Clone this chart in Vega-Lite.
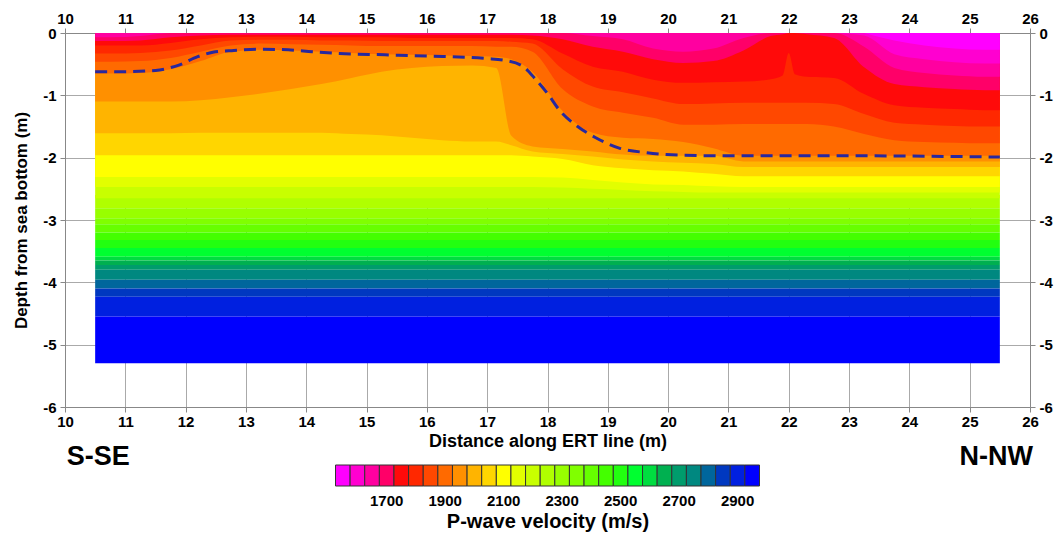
{
"$schema":"https://vega.github.io/schema/vega-lite/v6.json",
"background":"white",
"padding":{"left":12,"top":11,"right":5,"bottom":5},
"config":{"font":"Liberation Sans","view":{"stroke":null},
 "axis":{"labelFont":"Liberation Sans","titleFont":"Liberation Sans","labelColor":"#000","titleColor":"#000","labelFontWeight":"bold","titleFontWeight":"bold"}},
"spacing":58,
"bounds":"flush",
"center":true,
"datasets":{
"low":[
{"x0":10.5,"x1":25.5,"d0":-2.6,"d1":-2.81,"v":2250},{"x0":10.5,"x1":25.5,"d0":-2.81,"d1":-2.97,"v":2300},{"x0":10.5,"x1":25.5,"d0":-2.97,"d1":-3.07,"v":2350},{"x0":10.5,"x1":25.5,"d0":-3.07,"d1":-3.2,"v":2400},{"x0":10.5,"x1":25.5,"d0":-3.2,"d1":-3.32,"v":2450},{"x0":10.5,"x1":25.5,"d0":-3.32,"d1":-3.45,"v":2500},{"x0":10.5,"x1":25.5,"d0":-3.45,"d1":-3.59,"v":2550},{"x0":10.5,"x1":25.5,"d0":-3.59,"d1":-3.65,"v":2600},{"x0":10.5,"x1":25.5,"d0":-3.65,"d1":-3.72,"v":2650},{"x0":10.5,"x1":25.5,"d0":-3.72,"d1":-3.8,"v":2700},{"x0":10.5,"x1":25.5,"d0":-3.8,"d1":-3.96,"v":2750},{"x0":10.5,"x1":25.5,"d0":-3.96,"d1":-4.1,"v":2800},{"x0":10.5,"x1":25.5,"d0":-4.1,"d1":-4.23,"v":2850},{"x0":10.5,"x1":25.5,"d0":-4.23,"d1":-4.55,"v":2900},{"x0":10.5,"x1":25.5,"d0":-4.55,"d1":-5.3,"v":2950}
],
"bounds":[
{"v":2200,"x":10.5,"b":-2.65},{"v":2200,"x":25.5,"b":-2.65},
{"v":2150,"x":10.5,"b":-2.47},{"v":2150,"x":17.4,"b":-2.47},{"v":2150,"x":17.75,"b":-2.47},{"v":2150,"x":18.25,"b":-2.48},{"v":2150,"x":18.75,"b":-2.5},{"v":2150,"x":19.25,"b":-2.52},{"v":2150,"x":19.75,"b":-2.54},{"v":2150,"x":20.25,"b":-2.55},{"v":2150,"x":20.75,"b":-2.56},{"v":2150,"x":21.25,"b":-2.56},{"v":2150,"x":25.5,"b":-2.56},
{"v":2100,"x":10.5,"b":-2.31},{"v":2100,"x":17.4,"b":-2.31},{"v":2100,"x":17.75,"b":-2.31},{"v":2100,"x":18.25,"b":-2.32},{"v":2100,"x":18.75,"b":-2.36},{"v":2100,"x":19.25,"b":-2.4},{"v":2100,"x":19.75,"b":-2.43},{"v":2100,"x":20.25,"b":-2.44},{"v":2100,"x":20.75,"b":-2.46},{"v":2100,"x":21.25,"b":-2.47},{"v":2100,"x":25.5,"b":-2.47},
{"v":2050,"x":10.5,"b":-1.96},{"v":2050,"x":17.4,"b":-1.96},{"v":2050,"x":17.75,"b":-1.98},{"v":2050,"x":18.25,"b":-2.02},{"v":2050,"x":18.75,"b":-2.12},{"v":2050,"x":19.25,"b":-2.17},{"v":2050,"x":19.75,"b":-2.2},{"v":2050,"x":20.25,"b":-2.22},{"v":2050,"x":20.75,"b":-2.26},{"v":2050,"x":21.25,"b":-2.3},{"v":2050,"x":25.5,"b":-2.3},
{"v":2000,"x":10.5,"b":-1.61},{"v":2000,"x":11.75,"b":-1.61},{"v":2000,"x":12.25,"b":-1.6},{"v":2000,"x":14.25,"b":-1.6},{"v":2000,"x":14.75,"b":-1.62},{"v":2000,"x":15.25,"b":-1.64},{"v":2000,"x":15.75,"b":-1.68},{"v":2000,"x":16.25,"b":-1.72},{"v":2000,"x":16.75,"b":-1.74},{"v":2000,"x":17.15,"b":-1.74},{"v":2000,"x":17.4,"b":-1.8},{"v":2000,"x":17.75,"b":-1.9},{"v":2000,"x":18.25,"b":-1.94},{"v":2000,"x":18.75,"b":-1.98},{"v":2000,"x":19.25,"b":-2.03},{"v":2000,"x":19.75,"b":-2.06},{"v":2000,"x":20.25,"b":-2.08},{"v":2000,"x":20.75,"b":-2.1},{"v":2000,"x":21.25,"b":-2.15},{"v":2000,"x":25.5,"b":-2.15},
{"v":1950,"x":10.5,"b":-1.1},{"v":1950,"x":11.75,"b":-1.1},{"v":1950,"x":12.25,"b":-1.08},{"v":1950,"x":12.75,"b":-1.03},{"v":1950,"x":13.25,"b":-0.97},{"v":1950,"x":13.75,"b":-0.9},{"v":1950,"x":14.25,"b":-0.82},{"v":1950,"x":14.75,"b":-0.72},{"v":1950,"x":15.25,"b":-0.62},{"v":1950,"x":15.75,"b":-0.56},{"v":1950,"x":16.25,"b":-0.53},{"v":1950,"x":16.75,"b":-0.52},{"v":1950,"x":17.15,"b":-0.56},{"v":1950,"x":17.4,"b":-1.65},{"v":1950,"x":17.75,"b":-1.82},{"v":1950,"x":18.25,"b":-1.86},{"v":1950,"x":18.75,"b":-1.9},{"v":1950,"x":19.25,"b":-1.95},{"v":1950,"x":19.75,"b":-1.97},{"v":1950,"x":20.25,"b":-1.97},{"v":1950,"x":20.75,"b":-1.97},{"v":1950,"x":21.25,"b":-2.06},{"v":1950,"x":25.5,"b":-2.06},
{"v":1900,"x":10.5,"b":-0.65},{"v":1900,"x":10.75,"b":-0.65},{"v":1900,"x":11.25,"b":-0.64},{"v":1900,"x":11.75,"b":-0.58},{"v":1900,"x":12.25,"b":-0.45},{"v":1900,"x":12.75,"b":-0.3},{"v":1900,"x":13.25,"b":-0.27},{"v":1900,"x":13.75,"b":-0.28},{"v":1900,"x":14.25,"b":-0.3},{"v":1900,"x":14.75,"b":-0.32},{"v":1900,"x":15.25,"b":-0.34},{"v":1900,"x":15.75,"b":-0.35},{"v":1900,"x":16.25,"b":-0.36},{"v":1900,"x":16.75,"b":-0.37},{"v":1900,"x":17.15,"b":-0.38},{"v":1900,"x":17.4,"b":-0.42},{"v":1900,"x":17.75,"b":-0.62},{"v":1900,"x":18.25,"b":-1.25},{"v":1900,"x":18.75,"b":-1.6},{"v":1900,"x":19.25,"b":-1.68},{"v":1900,"x":19.75,"b":-1.7},{"v":1900,"x":20.25,"b":-1.75},{"v":1900,"x":20.75,"b":-1.85},{"v":1900,"x":21.25,"b":-1.97},{"v":1900,"x":25.5,"b":-1.97},
{"v":1850,"x":10.5,"b":-0.46},{"v":1850,"x":10.75,"b":-0.46},{"v":1850,"x":11.25,"b":-0.45},{"v":1850,"x":11.75,"b":-0.4},{"v":1850,"x":12.25,"b":-0.3},{"v":1850,"x":12.75,"b":-0.2},{"v":1850,"x":13.25,"b":-0.17},{"v":1850,"x":13.75,"b":-0.18},{"v":1850,"x":14.25,"b":-0.19},{"v":1850,"x":14.75,"b":-0.2},{"v":1850,"x":15.25,"b":-0.21},{"v":1850,"x":16.75,"b":-0.21},{"v":1850,"x":17.15,"b":-0.22},{"v":1850,"x":17.4,"b":-0.22},{"v":1850,"x":17.75,"b":-0.3},{"v":1850,"x":18.25,"b":-0.9},{"v":1850,"x":18.75,"b":-1.18},{"v":1850,"x":19.25,"b":-1.28},{"v":1850,"x":19.75,"b":-1.36},{"v":1850,"x":20.25,"b":-1.47},{"v":1850,"x":20.75,"b":-1.47},{"v":1850,"x":21.25,"b":-1.46},{"v":1850,"x":22.3,"b":-1.46},{"v":1850,"x":22.75,"b":-1.5},{"v":1850,"x":23.25,"b":-1.62},{"v":1850,"x":23.75,"b":-1.72},{"v":1850,"x":24.25,"b":-1.75},{"v":1850,"x":24.75,"b":-1.76},{"v":1850,"x":25.25,"b":-1.77},{"v":1850,"x":25.5,"b":-1.77},
{"v":1800,"x":10.5,"b":-0.33},{"v":1800,"x":10.75,"b":-0.33},{"v":1800,"x":11.25,"b":-0.32},{"v":1800,"x":11.75,"b":-0.28},{"v":1800,"x":12.25,"b":-0.2},{"v":1800,"x":12.75,"b":-0.12},{"v":1800,"x":13.25,"b":-0.11},{"v":1800,"x":13.75,"b":-0.11},{"v":1800,"x":14.25,"b":-0.12},{"v":1800,"x":14.75,"b":-0.12},{"v":1800,"x":15.25,"b":-0.13},{"v":1800,"x":17.15,"b":-0.13},{"v":1800,"x":17.4,"b":-0.14},{"v":1800,"x":17.75,"b":-0.17},{"v":1800,"x":18.25,"b":-0.58},{"v":1800,"x":18.75,"b":-0.86},{"v":1800,"x":19.25,"b":-0.95},{"v":1800,"x":19.75,"b":-1.05},{"v":1800,"x":20.25,"b":-1.14},{"v":1800,"x":20.75,"b":-1.13},{"v":1800,"x":21.25,"b":-1.12},{"v":1800,"x":22.3,"b":-1.12},{"v":1800,"x":22.75,"b":-1.14},{"v":1800,"x":23.25,"b":-1.3},{"v":1800,"x":23.75,"b":-1.44},{"v":1800,"x":24.25,"b":-1.47},{"v":1800,"x":24.75,"b":-1.49},{"v":1800,"x":25.25,"b":-1.5},{"v":1800,"x":25.5,"b":-1.5},
{"v":1750,"x":10.5,"b":-0.2},{"v":1750,"x":11.25,"b":-0.2},{"v":1750,"x":11.75,"b":-0.16},{"v":1750,"x":12.25,"b":-0.1},{"v":1750,"x":12.75,"b":-0.07},{"v":1750,"x":13.25,"b":-0.06},{"v":1750,"x":13.75,"b":-0.06},{"v":1750,"x":14.25,"b":-0.07},{"v":1750,"x":15.25,"b":-0.07},{"v":1750,"x":15.75,"b":-0.08},{"v":1750,"x":17.4,"b":-0.08},{"v":1750,"x":17.75,"b":-0.1},{"v":1750,"x":18.25,"b":-0.33},{"v":1750,"x":18.75,"b":-0.54},{"v":1750,"x":19.25,"b":-0.62},{"v":1750,"x":19.75,"b":-0.75},{"v":1750,"x":20.25,"b":-0.8},{"v":1750,"x":20.75,"b":-0.79},{"v":1750,"x":21.25,"b":-0.78},{"v":1750,"x":21.7,"b":-0.74},{"v":1750,"x":21.9,"b":-0.68},{"v":1750,"x":22,"b":-0.32},{"v":1750,"x":22.1,"b":-0.66},{"v":1750,"x":22.3,"b":-0.7},{"v":1750,"x":22.75,"b":-0.72},{"v":1750,"x":23.25,"b":-0.98},{"v":1750,"x":23.75,"b":-1.16},{"v":1750,"x":24.25,"b":-1.2},{"v":1750,"x":24.75,"b":-1.22},{"v":1750,"x":25.25,"b":-1.24},{"v":1750,"x":25.5,"b":-1.24},
{"v":1700,"x":10.5,"b":-0.13},{"v":1700,"x":10.75,"b":-0.13},{"v":1700,"x":11.25,"b":-0.12},{"v":1700,"x":11.75,"b":-0.07},{"v":1700,"x":12.25,"b":-0.04},{"v":1700,"x":12.75,"b":-0.03},{"v":1700,"x":17.4,"b":-0.03},{"v":1700,"x":17.75,"b":-0.04},{"v":1700,"x":18.25,"b":-0.1},{"v":1700,"x":18.75,"b":-0.22},{"v":1700,"x":19.25,"b":-0.3},{"v":1700,"x":19.75,"b":-0.42},{"v":1700,"x":20.25,"b":-0.48},{"v":1700,"x":20.75,"b":-0.45},{"v":1700,"x":21.25,"b":-0.28},{"v":1700,"x":21.7,"b":-0.05},{"v":1700,"x":21.9,"b":-0.02},{"v":1700,"x":22,"b":0},{"v":1700,"x":22.1,"b":0},{"v":1700,"x":22.3,"b":-0.02},{"v":1700,"x":22.75,"b":-0.08},{"v":1700,"x":23.25,"b":-0.55},{"v":1700,"x":23.75,"b":-0.82},{"v":1700,"x":24.25,"b":-0.87},{"v":1700,"x":24.75,"b":-0.9},{"v":1700,"x":25.25,"b":-0.92},{"v":1700,"x":25.5,"b":-0.92},
{"v":1650,"x":10.5,"b":-0.07},{"v":1650,"x":10.75,"b":-0.07},{"v":1650,"x":11.25,"b":-0.05},{"v":1650,"x":11.75,"b":0},{"v":1650,"x":18.25,"b":0},{"v":1650,"x":18.75,"b":-0.05},{"v":1650,"x":19.25,"b":-0.1},{"v":1650,"x":19.75,"b":-0.25},{"v":1650,"x":20.25,"b":-0.3},{"v":1650,"x":20.75,"b":-0.25},{"v":1650,"x":21.25,"b":-0.08},{"v":1650,"x":21.7,"b":0},{"v":1650,"x":22.75,"b":0},{"v":1650,"x":23.25,"b":-0.22},{"v":1650,"x":23.75,"b":-0.56},{"v":1650,"x":24.25,"b":-0.64},{"v":1650,"x":24.75,"b":-0.68},{"v":1650,"x":25.25,"b":-0.7},{"v":1650,"x":25.5,"b":-0.7},
{"v":1600,"x":22.75,"b":0},{"v":1600,"x":23.25,"b":-0.04},{"v":1600,"x":23.75,"b":-0.34},{"v":1600,"x":24.25,"b":-0.42},{"v":1600,"x":24.75,"b":-0.47},{"v":1600,"x":25.25,"b":-0.49},{"v":1600,"x":25.5,"b":-0.49},
{"v":1550,"x":23.25,"b":0},{"v":1550,"x":23.75,"b":-0.12},{"v":1550,"x":24.25,"b":-0.2},{"v":1550,"x":24.75,"b":-0.25},{"v":1550,"x":25.25,"b":-0.27},{"v":1550,"x":25.5,"b":-0.27}
],
"line":[
{"x":10.5,"d":-0.62},{"x":11,"d":-0.62},{"x":11.5,"d":-0.6},{"x":11.9,"d":-0.51},{"x":12.2,"d":-0.38},{"x":12.45,"d":-0.31},{"x":12.8,"d":-0.28},{"x":13.2,"d":-0.26},{"x":13.7,"d":-0.27},{"x":14.1,"d":-0.3},{"x":14.55,"d":-0.33},{"x":15.3,"d":-0.35},{"x":16,"d":-0.37},{"x":17,"d":-0.41},{"x":17.3,"d":-0.44},{"x":17.6,"d":-0.54},{"x":17.8,"d":-0.74},{"x":18,"d":-0.97},{"x":18.2,"d":-1.24},{"x":18.5,"d":-1.5},{"x":18.8,"d":-1.68},{"x":19.2,"d":-1.85},{"x":19.65,"d":-1.92},{"x":20.2,"d":-1.96},{"x":21,"d":-1.97},{"x":23,"d":-1.97},{"x":25.5,"d":-1.99}
],
"bar":[{"v":1550},{"v":1600},{"v":1650},{"v":1700},{"v":1750},{"v":1800},{"v":1850},{"v":1900},{"v":1950},{"v":2000},{"v":2050},{"v":2100},{"v":2150},{"v":2200},{"v":2250},{"v":2300},{"v":2350},{"v":2400},{"v":2450},{"v":2500},{"v":2550},{"v":2600},{"v":2650},{"v":2700},{"v":2750},{"v":2800},{"v":2850},{"v":2900},{"v":2950}],
"left":[{"t":"S-SE","x":10.03,"d":-6.8}],
"right":[{"t":"N-NW","x":26.05,"d":-6.8}]
},
"vconcat":[
{
"width":965,"height":374,
"layer":[
{"data":{"name":"low"},
 "mark":{"type":"rect","strokeWidth":0},
 "encoding":{
  "x":{"field":"x0","type":"quantitative","scale":{"domain":[10,26],"nice":false,"zero":false},
   "axis":{"orient":"bottom","values":[10,11,12,13,14,15,16,17,18,19,20,21,22,23,24,25,26],"labelFlush":false,"labelOverlap":false,"labelFontSize":15,"labelPadding":2,"tickSize":5,"tickColor":"#888","domainColor":"#888","grid":true,"gridColor":"#aaa","title":"Distance along ERT line (m)","titleFontSize":18,"titlePadding":3}},
  "x2":{"field":"x1"},
  "y":{"field":"d0","type":"quantitative","scale":{"domain":[-6,0],"nice":false,"zero":false},
   "axis":{"orient":"left","values":[-6,-5,-4,-3,-2,-1,0],"labelExpr":"datum.value == 0 ? '0' : '-' + abs(datum.value)","labelFontSize":15,"labelPadding":4,"tickSize":5,"tickColor":"#888","domainColor":"#888","grid":true,"gridColor":"#aaa","title":"Depth from sea bottom (m)","titleFontSize":17,"titlePadding":12}},
  "y2":{"field":"d1"},
  "color":{"field":"v","type":"ordinal","legend":null,
   "scale":{"domain":[1550,1600,1650,1700,1750,1800,1850,1900,1950,2000,2050,2100,2150,2200,2250,2300,2350,2400,2450,2500,2550,2600,2650,2700,2750,2800,2850,2900,2950],
    "range":["#ff00ff","#ff00d0","#ff00a0","#ff0068","#ff0a0a","#ff2800","#ff4800","#ff6a00","#ff9000","#ffb400","#ffd600","#ffff00","#e2ff00","#c8ff00","#b0ff00","#98ff00","#80ff00","#66ff00","#44ff00","#22ff10","#00ff30","#00dd40","#00b050","#009c6c","#008880","#00669c","#0038c0","#0020e0","#0000ff"]}}
 }},
{"data":{"name":"bounds"},
 "mark":{"type":"area","interpolate":"monotone","strokeWidth":0},
 "encoding":{
  "x":{"field":"x","type":"quantitative","axis":null},
  "y":{"field":"b","type":"quantitative","stack":null,"axis":null},
  "y2":{"datum":0},
  "color":{"field":"v","type":"ordinal","legend":null}
 }},
{"data":{"name":"line"},
 "mark":{"type":"line","color":"#28289e","strokeWidth":3,"strokeDash":[12,7],"interpolate":"monotone"},
 "encoding":{
  "x":{"field":"x","type":"quantitative","axis":{"orient":"top","values":[10,11,12,13,14,15,16,17,18,19,20,21,22,23,24,25,26],"labelFlush":false,"labelOverlap":false,"labelFontSize":15,"labelPadding":2,"tickSize":5,"tickColor":"#888","domainColor":"#888","grid":false,"title":null}},
  "y":{"field":"d","type":"quantitative","axis":{"orient":"right","values":[-6,-5,-4,-3,-2,-1,0],"labelExpr":"datum.value == 0 ? '0' : '-' + abs(datum.value)","labelFontSize":15,"labelPadding":4,"tickSize":5,"tickColor":"#888","domainColor":"#888","grid":false,"title":null}}
 }},
{"data":{"name":"left"},
 "mark":{"type":"text","fontSize":27,"fontWeight":"bold","font":"Liberation Sans","baseline":"middle","align":"left","color":"#000"},
 "encoding":{
  "x":{"field":"x","type":"quantitative","axis":null},
  "y":{"field":"d","type":"quantitative","axis":null},
  "text":{"field":"t"}
 }},
{"data":{"name":"right"},
 "mark":{"type":"text","fontSize":27,"fontWeight":"bold","font":"Liberation Sans","baseline":"middle","align":"right","color":"#000"},
 "encoding":{
  "x":{"field":"x","type":"quantitative","axis":null},
  "y":{"field":"d","type":"quantitative","axis":null},
  "text":{"field":"t"}
 }}
],
"resolve":{"axis":{"x":"independent","y":"independent"}}
},
{
"width":424,"height":21,
"data":{"name":"bar"},
"mark":{"type":"rect","stroke":"#333","strokeWidth":1},
"encoding":{
 "x":{"field":"v","type":"ordinal","scale":{"paddingInner":0,"paddingOuter":0},
  "axis":{"values":[1700,1900,2100,2300,2500,2700,2900],"labelAngle":0,"labelFontSize":15,"labelPadding":7,"ticks":false,"domain":false,"title":"P-wave velocity (m/s)","titleFontSize":20,"titlePadding":3}},
 "color":{"field":"v","type":"ordinal","legend":null,
   "scale":{"domain":[1550,1600,1650,1700,1750,1800,1850,1900,1950,2000,2050,2100,2150,2200,2250,2300,2350,2400,2450,2500,2550,2600,2650,2700,2750,2800,2850,2900,2950],
    "range":["#ff00ff","#ff00d0","#ff00a0","#ff0068","#ff0a0a","#ff2800","#ff4800","#ff6a00","#ff9000","#ffb400","#ffd600","#ffff00","#e2ff00","#c8ff00","#b0ff00","#98ff00","#80ff00","#66ff00","#44ff00","#22ff10","#00ff30","#00dd40","#00b050","#009c6c","#008880","#00669c","#0038c0","#0020e0","#0000ff"]}}
}
}
]
}
